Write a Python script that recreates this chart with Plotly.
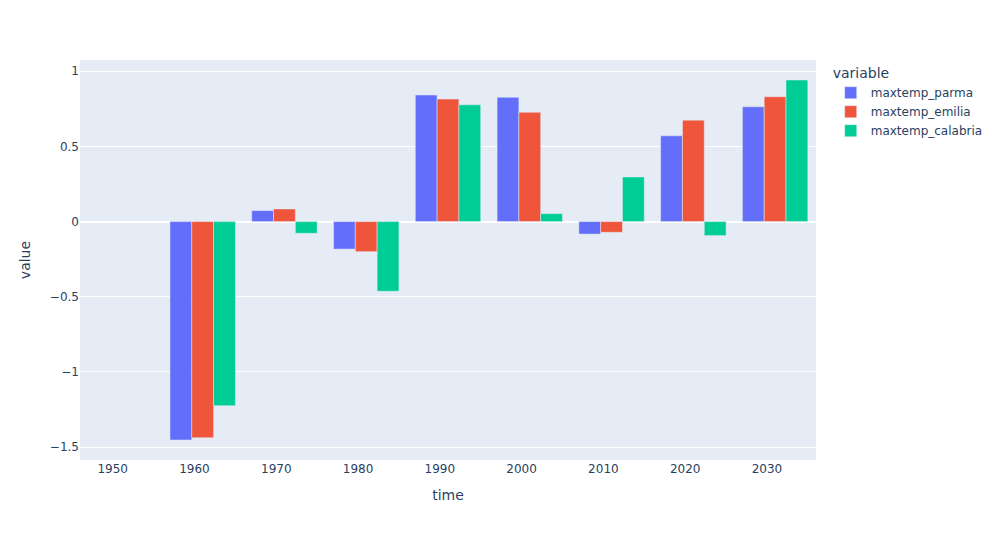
import pandas as pd
import plotly.express as px

# decade values (1951 has no data)
time = ["1951-01-01", "1961-01-01", "1971-01-01", "1981-01-01", "1991-01-01",
        "2001-01-01", "2011-01-01", "2021-01-01", "2031-01-01"]
maxtemp_parma = [None, -1.453, 0.073, -0.183, 0.842, 0.827, -0.083, 0.571, 0.764]
maxtemp_emilia = [None, -1.438, 0.084, -0.200, 0.815, 0.727, -0.071, 0.675, 0.831]
maxtemp_calabria = [None, -1.225, -0.078, -0.463, 0.777, 0.053, 0.297, -0.093, 0.942]

df = pd.DataFrame({
    "time": pd.to_datetime(time),
    "maxtemp_parma": maxtemp_parma,
    "maxtemp_emilia": maxtemp_emilia,
    "maxtemp_calabria": maxtemp_calabria,
})

fig = px.bar(df, x="time", y=["maxtemp_parma", "maxtemp_emilia", "maxtemp_calabria"],
             barmode="group")
fig.update_layout(width=1000, height=540, font_family="DejaVu Sans")
# drop the page margin so the figure sits at the window corner
fig.write_html("out.html", config={"displayModeBar": False},
               post_script="document.body.style.margin='0';")
